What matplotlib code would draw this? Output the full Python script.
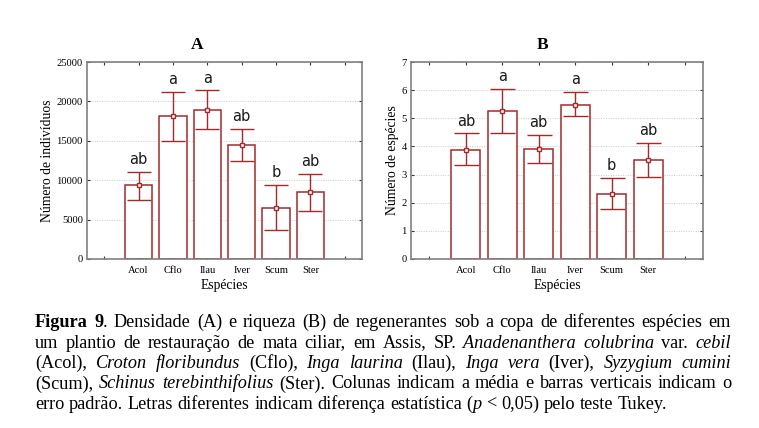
import matplotlib
matplotlib.use("Agg")
import matplotlib.pyplot as plt
import numpy as np

species = ['Acol', 'Cflo', 'Ilau', 'Iver', 'Scum', 'Ster']

dens_mean = [9400, 18100, 18950, 14450, 6500, 8450]
dens_low = [7450, 14950, 16550, 12450, 3700, 6050]
dens_high = [11100, 21250, 21400, 16550, 9400, 10850]
dens_letters = ['ab', 'a', 'a', 'ab', 'b', 'ab']

rich_mean = [3.89, 5.27, 3.91, 5.48, 2.30, 3.53]
rich_low = [3.33, 4.49, 3.42, 5.08, 1.79, 2.93]
rich_high = [4.46, 6.05, 4.42, 5.94, 2.87, 4.11]
rich_letters = ['ab', 'a', 'ab', 'a', 'b', 'ab']

caption_lines = [
    [("Figura 9", "bold"), (". Densidade (A) e riqueza (B) de regenerantes sob a copa de diferentes espécies em", "normal")],
    [("um plantio de restauração de mata ciliar, em Assis, SP. ", "normal"), ("Anadenanthera colubrina", "italic"),
     (" var. ", "normal"), ("cebil", "italic")],
    [("(Acol), ", "normal"), ("Croton floribundus", "italic"), (" (Cflo), ", "normal"), ("Inga laurina", "italic"),
     (" (Ilau), ", "normal"), ("Inga vera", "italic"), (" (Iver), ", "normal"), ("Syzygium cumini", "italic")],
    [("(Scum), ", "normal"), ("Schinus terebinthifolius", "italic"),
     (" (Ster). Colunas indicam a média e barras verticais indicam o", "normal")],
    [("erro padrão. Letras diferentes indicam diferença estatística (", "normal"), ("p", "italic"),
     (" < 0,05) pelo teste Tukey.", "normal")],
]

W, H = 759, 428
RED = '#a3292b'
SERIF = 'Liberation Serif'

fig = plt.figure(figsize=(W / 100, H / 100), dpi=100)
fig.patch.set_facecolor('white')


def px_axes(l, r, t, b):
    return [l / W, 1 - b / H, (r - l) / W, (b - t) / H]


def panel(rect, mean, low, high, letters, ymax, ystep, ylabel, capsize):
    ax = fig.add_axes(rect)
    x = np.arange(len(species))
    mean = np.array(mean, dtype=float)
    low = np.array(low, dtype=float)
    high = np.array(high, dtype=float)
    ax.bar(x, mean, width=0.8, facecolor='white', edgecolor=RED, linewidth=1.1, zorder=2)
    ax.errorbar(x, mean, yerr=[mean - low, high - mean], fmt='s', color=RED, ecolor=RED,
                elinewidth=1.0, capsize=capsize, capthick=1.0, ms=3.2, mfc='white', mec=RED,
                mew=1.0, zorder=3)
    for xi, hi, lt in zip(x, high, letters):
        ax.annotate(lt, (xi, hi), xytext=(0, 3.5), textcoords='offset points', ha='center',
                    va='bottom', fontsize=10.5, family='DejaVu Sans', color='#1a1a1a')
    ax.set_xlim(-1.5, len(species) + 0.5)
    ax.set_ylim(0, ymax)
    ax.set_xticks(np.arange(-1, len(species) + 1))
    ax.set_xticklabels([''] + species + [''], family=SERIF, fontsize=7.6)
    yt = np.arange(0, ymax + ystep / 2, ystep)
    ax.set_yticks(yt)
    ax.set_yticklabels([f"{v:g}" for v in yt], family=SERIF, fontsize=7.6)
    ax.tick_params(direction='in', length=2.5, width=0.8, color='#333333', top=True, right=True,
                   pad=3)
    ax.tick_params(axis='x', pad=5)
    ax.yaxis.grid(True, linestyle=(0, (1, 1.5)), color='#c8c8c8', linewidth=0.7, zorder=0)
    ax.set_axisbelow(True)
    for s in ax.spines.values():
        s.set_color('#808080')
        s.set_linewidth(1.2)
    ax.set_xlabel('Espécies', family=SERIF, fontsize=9.8, labelpad=3)
    ax.set_ylabel(ylabel, family=SERIF, fontsize=9.8, labelpad=2)
    return ax


axA = panel(px_axes(87, 362, 62, 259), dens_mean, dens_low, dens_high, dens_letters,
            25000, 5000, 'Número de indivíduos', 8.3)
axB = panel(px_axes(411, 703, 62, 259), rich_mean, rich_low, rich_high, rich_letters,
            7, 1, 'Número de espécies', 9)

fig.text(197 / W, 1 - 45 / H, 'A', family=SERIF, fontweight='bold', fontsize=12.5,
         ha='center', va='center')
fig.text(543 / W, 1 - 45 / H, 'B', family=SERIF, fontweight='bold', fontsize=12.5,
         ha='center', va='center')

# caption, justified
renderer = fig.canvas.get_renderer()
LEFT, RIGHT = 35, 731
BASE0, STEP = 327, 20.5


def style_kw(style, fs):
    kw = dict(family=SERIF, fontsize=fs, color='black')
    if style == 'bold':
        kw['fontweight'] = 'bold'
    elif style == 'italic':
        kw['fontstyle'] = 'italic'
    return kw


def width_of(txt, style, fs):
    t = fig.text(0, 0, txt, **style_kw(style, fs))
    w = t.get_window_extent(renderer).width
    t.remove()
    return w


def split_words(runs):
    words, cur = [], []
    for text, style in runs:
        parts = text.split(' ')
        for i, p in enumerate(parts):
            if i > 0 and cur:
                words.append(cur)
                cur = []
            if p:
                cur.append((p, style))
    if cur:
        words.append(cur)
    return words


# fit font size so the first line nearly fills the measure with ordinary spacing
base_fs = 12.0
sp12 = width_of('a a', 'normal', base_fs) - width_of('aa', 'normal', base_fs)
w0 = split_words(caption_lines[0])
nat = sum(width_of(p, s, base_fs) for w in w0 for p, s in w) + sp12 * (len(w0) - 1)
CAP_FS = base_fs * (RIGHT - LEFT) / nat * 0.965

space_w = width_of('a a', 'normal', CAP_FS) - width_of('aa', 'normal', CAP_FS)

for li, runs in enumerate(caption_lines):
    words = split_words(runs)
    widths = [[width_of(p, s, CAP_FS) for p, s in w] for w in words]
    total = sum(sum(ws) for ws in widths)
    ngaps = len(words) - 1
    justify = li < len(caption_lines) - 1
    gap = (RIGHT - LEFT - total) / ngaps if (justify and ngaps > 0) else space_w
    xpos = LEFT
    ybase = BASE0 + li * STEP
    for w, ws in zip(words, widths):
        for (p, s), pw in zip(w, ws):
            fig.text(xpos / W, 1 - ybase / H, p, ha='left', va='baseline', **style_kw(s, CAP_FS))
            xpos += pw
        xpos += gap

fig.savefig('out.png', dpi=100, facecolor='white')
